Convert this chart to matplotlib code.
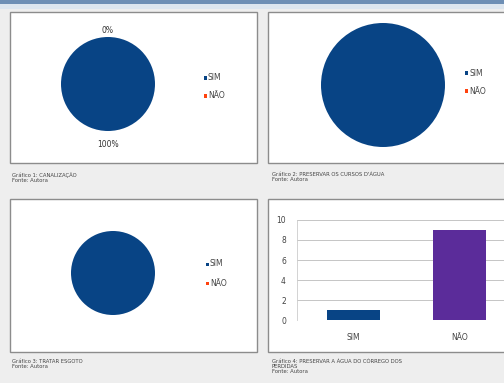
import numpy as np
import matplotlib.pyplot as plt
from matplotlib.patches import Rectangle

# dados
categorias = ['SIM', 'NÃO']
canalizacao = [100, 0]          # Gráfico 1 (%)
preservar_cursos = [100, 0]     # Gráfico 2
tratar_esgoto = [100, 0]        # Gráfico 3
preservar_corrego = [1, 9]      # Gráfico 4 (contagem)
yticks_bar = [0, 2, 4, 6, 8, 10]

legendas = [
    'Gráfico 1: CANALIZAÇÃO\nFonte: Autora',
    'Gráfico 2: PRESERVAR OS CURSOS D\'ÁGUA\nFonte: Autora',
    'Gráfico 3: TRATAR ESGOTO\nFonte: Autora',
    'Gráfico 4: PRESERVAR A ÁGUA DO CÓRREGO DOS\nPERDIDAS\nFonte: Autora',
]

AZUL = '#084485'
VERMELHO = '#ff420e'
ROXO = '#5b2c9a'

W, H = 504, 383
fig = plt.figure(figsize=(W / 100, H / 100), dpi=100)
fig.patch.set_facecolor('#eeeeee')


def px_axes(x, y, w, h):
    # caixa em pixels (origem no canto superior esquerdo)
    ax = fig.add_axes([x / W, 1 - (y + h) / H, w / W, h / H])
    ax.patch.set_alpha(0)
    return ax


# faixa azul no topo
fig.patches.append(Rectangle((0, 1 - 4 / H), 1, 4 / H, transform=fig.transFigure,
                             facecolor='#6e8fb5', edgecolor='none', zorder=-2))
fig.patches.append(Rectangle((0, 1 - 9 / H), 1, 5 / H, transform=fig.transFigure,
                             facecolor='#dde6ef', edgecolor='none', zorder=-2))

# molduras dos graficos
paineis = [(10, 12, 247, 151), (268, 12, 240, 151), (10, 199, 247, 153), (268, 199, 240, 153)]
for (x, y, w, h) in paineis:
    fig.patches.append(Rectangle((x / W, 1 - (y + h) / H), w / W, h / H,
                                 transform=fig.transFigure, facecolor='white',
                                 edgecolor='#8c8c8c', linewidth=1.0, zorder=-1))


def pizza(cx, cy, r, valores, rotulos=True):
    ax = px_axes(cx - r, cy - r, 2 * r, 2 * r)
    ax.pie(valores, colors=[AZUL, VERMELHO], startangle=90, counterclock=False,
           wedgeprops=dict(linewidth=0))
    ax.set_xlim(-1, 1)
    ax.set_ylim(-1, 1)
    ax.set_aspect('equal')
    if rotulos:
        ax.text(0, 1.04, '%d%%' % valores[1], ha='center', va='bottom', fontsize=5.5, color='#333333')
        ax.text(0, -1.2, '%d%%' % valores[0], ha='center', va='top', fontsize=5.5, color='#333333')
    return ax


def legenda(x, y, dy):
    for i, (cat, cor) in enumerate(zip(categorias, [AZUL, VERMELHO])):
        yy = y + i * dy
        fig.patches.append(Rectangle(((x - 1.5) / W, 1 - (yy + 1.5) / H), 3 / W, 3 / H,
                                     transform=fig.transFigure, facecolor=cor, edgecolor='none'))
        fig.text((x + 3) / W, 1 - yy / H, cat, color='#444444', fontsize=5.5, va='center', ha='left')


pizza(108, 84, 47, canalizacao)
legenda(205, 78, 18)

pizza(383, 85, 62, preservar_cursos, rotulos=False)
legenda(466, 73, 18)

pizza(113, 273, 42, tratar_esgoto, rotulos=False)
legenda(207, 264, 19)

# grafico de barras
ax = px_axes(297, 220, 207, 100)
x = np.arange(len(categorias))
ax.bar(x, preservar_corrego, width=0.5, color=[AZUL, ROXO])
ax.set_ylim(0, 10)
ax.set_xlim(-0.53, 1.42)
ax.set_yticks(yticks_bar)
ax.set_xticks(x)
ax.set_xticklabels(categorias)
ax.tick_params(labelsize=5.5, colors='#444444', length=0)
ax.yaxis.grid(True, color='#bbbbbb', linewidth=0.6)
ax.set_axisbelow(True)
for s in ['top', 'right', 'bottom']:
    ax.spines[s].set_visible(False)
ax.spines['left'].set_color('#cccccc')
ax.spines['left'].set_linewidth(0.6)
ax.tick_params(axis='x', pad=9)
ax.tick_params(axis='y', pad=8)

# legendas dos graficos
pos_leg = [(12, 172), (272, 172), (12, 359), (272, 359)]
for (lx, ly), txt in zip(pos_leg, legendas):
    fig.text(lx / W, 1 - ly / H, txt, fontsize=3.8, color='#444444', va='top', ha='left',
             linespacing=1.0)

fig.savefig('out.png', dpi=100, facecolor=fig.get_facecolor())
